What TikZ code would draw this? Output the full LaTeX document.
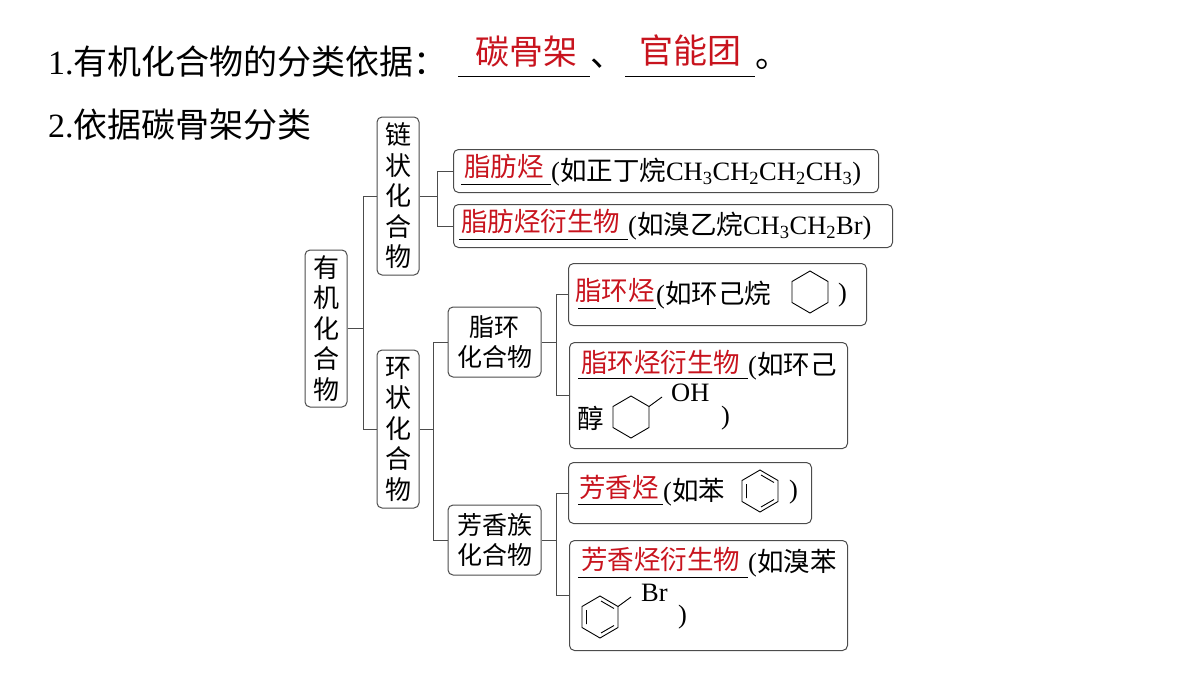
\documentclass[tikz,border=0pt]{standalone}
\usepackage{fontspec}
\setmainfont{Liberation Serif}
\newfontfamily\zhf{Noto Sans CJK SC}
\newcommand{\zh}[1]{{\zhf #1}}
\definecolor{myred}{RGB}{200,20,30}
\begin{document}
\begin{tikzpicture}[x=1pt,y=-1pt,
  bx/.style={draw=black!70,line width=1pt,rounded corners=5pt},
  ln/.style={draw=black!70,line width=0.9pt},
  big/.style={font=\fontsize{34}{37}\selectfont,anchor=west,inner sep=0},
  txt/.style={font=\fontsize{26.5}{30}\selectfont,anchor=west,inner sep=0},
  vt/.style={font=\zhf\fontsize{26}{30.5}\selectfont,align=center,inner sep=0},
  rd/.style={text=myred},
  ul/.style={draw=black,line width=0.8pt},
  hexa/.style={draw=black,line width=0.9pt}]
\useasboundingbox (0,0) rectangle (1200,675);
% header
\node[big] (h1) at (48,62) {1.\zh{有机化合物的分类依据：}};
\coordinate (u1a) at (458,76); \coordinate (u1b) at (590,76);
\draw[ul] (u1a) -- (u1b);
\node[big,rd,anchor=center] (a1) at (526,52) {\zh{碳骨架}};
\node[big] (dun) at (590,64) {\zh{、}};
\coordinate (u2a) at (625,76); \coordinate (u2b) at (755,76);
\draw[ul] (u2a) -- (u2b);
\node[big,rd,anchor=center] (a2) at (690,50) {\zh{官能团}};
\node[big] (jh) at (755,64) {\zh{。}};
\node[big] (h2) at (48,125) {2.\zh{依据碳骨架分类}};
% boxes
\node[bx,minimum width=42,minimum height=157] (yj) at (326,328.5) {};
\node[vt] at (yj) {有\\机\\化\\合\\物};
\node[bx,minimum width=42,minimum height=158] (lz) at (398,196) {};
\node[vt] at (lz) {链\\状\\化\\合\\物};
\node[bx,minimum width=42,minimum height=158] (hz) at (398,429) {};
\node[vt] at (hz) {环\\状\\化\\合\\物};
\node[bx,minimum width=93,minimum height=70] (zh) at (494.5,342) {};
\node[vt,font=\zhf\fontsize{25}{30}\selectfont] at (zh) {脂环\\化合物};
\node[bx,minimum width=93,minimum height=70] (fx) at (494.5,540) {};
\node[vt,font=\zhf\fontsize{25}{30}\selectfont] at (fx) {芳香族\\化合物};
% leaf boxes
\node[bx,minimum width=425,minimum height=43,anchor=north west] (b1) at (453,149) {};
\node[bx,minimum width=439,minimum height=43,anchor=north west] (b2) at (453,204) {};
\node[bx,minimum width=298,minimum height=62,anchor=north west] (b3) at (568,263) {};
\node[bx,minimum width=278,minimum height=106,anchor=north west] (b4) at (569,342) {};
\node[bx,minimum width=243,minimum height=61,anchor=north west] (b5) at (568,462) {};
\node[bx,minimum width=278,minimum height=110,anchor=north west] (b6) at (569,540) {};
% connectors
\draw[ln] (yj.east) -- ++(16,0) coordinate (j0);
\draw[ln] (lz.west) -| (j0) |- (hz.west);
\draw[ln] (lz.east) -- ++(18,0) coordinate (j1);
\draw[ln] (b1.west) -| (j1) |- (b2.west);
\draw[ln] (hz.east) -- ++(14,0) coordinate (j2);
\draw[ln] (zh.west) -| (j2) |- (fx.west);
\draw[ln] (zh.east) -- ++(15,0) coordinate (j3);
\draw[ln] (b3.west) -| (j3) |- (b4.west);
\draw[ln] (fx.east) -- ++(15,0) coordinate (j4);
\draw[ln] (b5.west) -| (j4) |- (b6.west);
% texts b1
\node[txt,rd] (t1) at (464,166) {\zh{脂肪烃}};
\draw[ul] (461,184) -- (551,184);
\node[txt] at (551,172) {(\zh{如正丁烷}CH\textsubscript{3}CH\textsubscript{2}CH\textsubscript{2}CH\textsubscript{3})};
% b2
\node[txt,rd] (t2) at (461,221) {\zh{脂肪烃衍生物}};
\draw[ul] (459,239) -- (628,239);
\node[txt] at (628,226) {(\zh{如溴乙烷}CH\textsubscript{3}CH\textsubscript{2}Br)};
% b3
\node[txt,rd] (t3) at (575,291) {\zh{脂环烃}};
\draw[ul] (578,308) -- (656,308);
\node[txt] at (656,295) {(\zh{如环己烷}};
\draw[hexa] (810,271) -- (828,281.5) -- (828,302.5) -- (810,313) -- (792,302.5) -- (792,281.5) -- cycle;
\node[txt] at (838,295) {)};
% b4
\node[txt,rd] (t4) at (581,362) {\zh{脂环烃衍生物}};
\draw[ul] (578,378) -- (748,378);
\node[txt] at (748,366) {(\zh{如环己}};
\node[txt] at (577,418) {\zh{醇}};
\draw[hexa] (631,396) -- (649,406.5) -- (649,427.5) -- (631,438) -- (613,427.5) -- (613,406.5) -- cycle;
\draw[hexa] (649,406.5) -- (662,397);
\node[txt] at (671,393) {OH};
\node[txt] at (721,418) {)};
% b5
\node[txt,rd] (t5) at (579,487) {\zh{芳香烃}};
\draw[ul] (578,504) -- (663,504);
\node[txt] at (663,492) {(\zh{如苯}};
\draw[hexa] (760,470) -- (778,480.5) -- (778,501.5) -- (760,512) -- (742,501.5) -- (742,480.5) -- cycle;
\draw[hexa] (761,475) -- (774,482.5) (774,499.5) -- (761,507) (746.5,484) -- (746.5,498);
\node[txt] at (789,492) {)};
% b6
\node[txt,rd] (t6) at (581,559) {\zh{芳香烃衍生物}};
\draw[ul] (578,577) -- (748,577);
\node[txt] at (748,563) {(\zh{如溴苯}};
\draw[hexa] (600,596) -- (618,606.5) -- (618,627.5) -- (600,638) -- (582,627.5) -- (582,606.5) -- cycle;
\draw[hexa] (601,601) -- (614,608.5) (614,625.5) -- (601,633) (586.5,610) -- (586.5,624);
\draw[hexa] (618,606.5) -- (631,597);
\node[txt] at (641,593) {Br};
\node[txt] at (678,617) {)};
\end{tikzpicture}
\end{document}
